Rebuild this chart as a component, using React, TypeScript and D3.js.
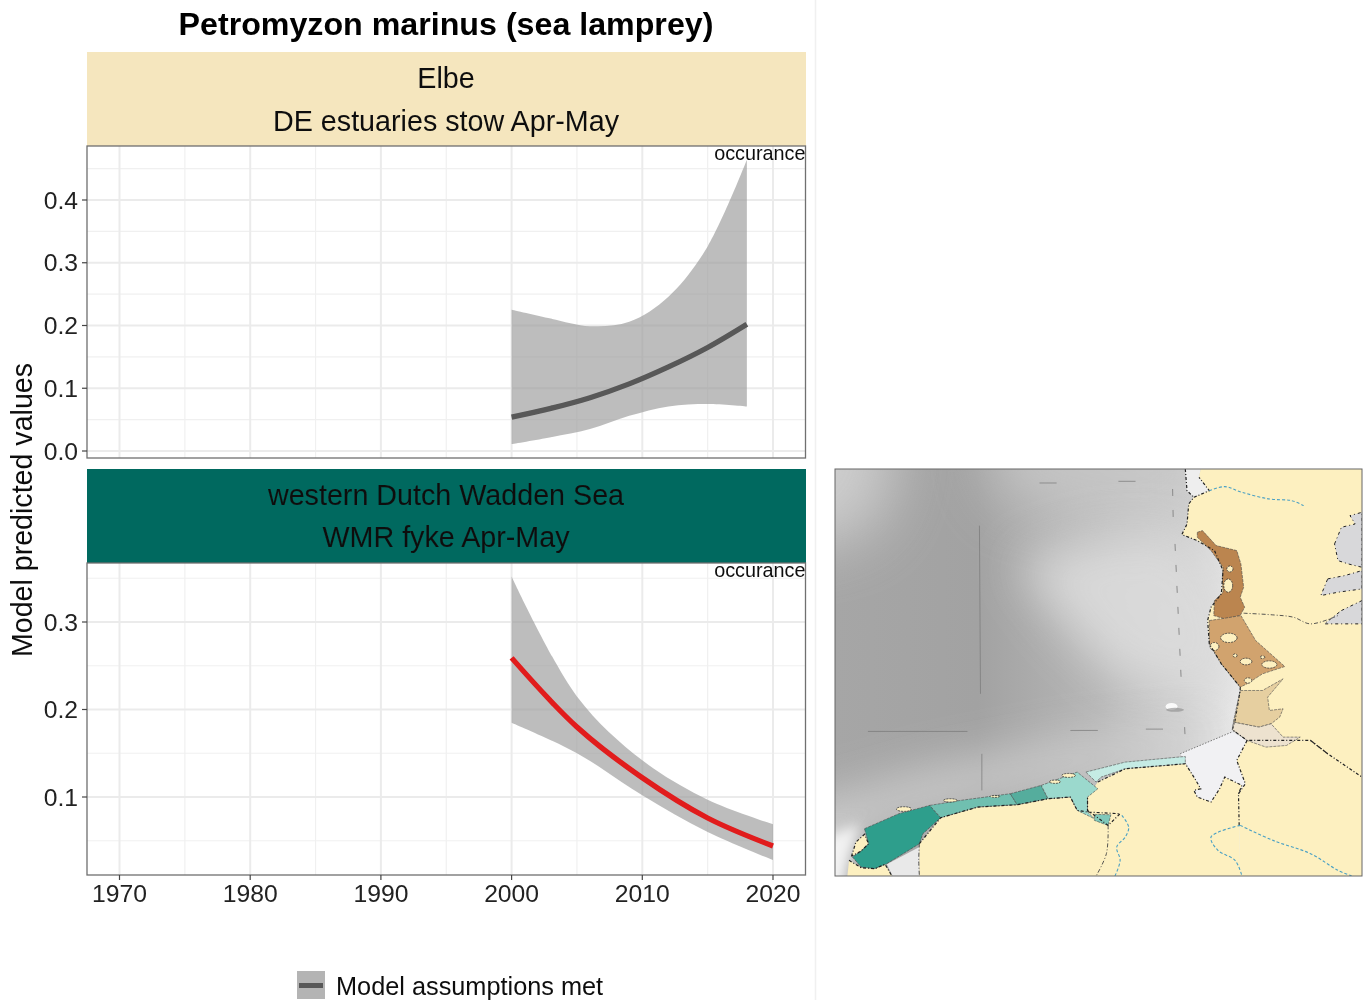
import React from "react";
import * as d3 from "d3";

type Pt = [number, number];

const years = [1970, 1980, 1990, 2000, 2010, 2020];
const minorYears = [1975, 1985, 1995, 2005, 2015];

const elbeYears = [2000, 2003, 2006, 2009, 2012, 2015, 2018];
const elbeMid = [0.054, 0.068, 0.085, 0.107, 0.134, 0.165, 0.202];
const elbeUpper = [0.225, 0.211, 0.199, 0.206, 0.246, 0.326, 0.464];
const elbeLower = [0.011, 0.022, 0.035, 0.056, 0.071, 0.075, 0.071];
const elbeTicks = [0, 0.1, 0.2, 0.3, 0.4];
const elbeMinor = [0.05, 0.15, 0.25, 0.35, 0.45];

const waddenYears = [2000, 2005, 2010, 2015, 2020];
const waddenMid = [0.259, 0.18, 0.122, 0.076, 0.044];
const waddenUpper = [0.352, 0.215, 0.142, 0.097, 0.069];
const waddenLower = [0.185, 0.15, 0.102, 0.06, 0.028];
const waddenTicks = [0.1, 0.2, 0.3];
const waddenMinor = [0.05, 0.15, 0.25, 0.35];

// map outlines, in the map's own grid
const seaStops: [number, string][] = [
  [0, "#a6a6a6"],
  [0.27, "#a2a2a2"],
  [0.5, "#b6b6b6"],
  [0.66, "#cfcfcf"],
  [0.78, "#ededed"],
];
const seaPatches: { pts: Pt[]; fill: string; blur: string; opacity: number }[] = [
  { pts: [[-300, -300], [200, -300], [170, 120], [100, 220], [-300, 300]], fill: "#d4d4d4", blur: "url(#mapBlurBig)", opacity: 0.85 },
  { pts: [[440, -300], [1100, -300], [1100, 190], [760, 190], [480, 110]], fill: "#c8c8c8", blur: "url(#mapBlurBig)", opacity: 0.85 },
  { pts: [[540, 300], [800, 220], [1030, 220], [1140, 400], [1180, 700], [1000, 690], [820, 640], [670, 480]], fill: "#dcdcdc", blur: "url(#mapBlurWide)", opacity: 0.9 },
  { pts: [[-300, 1110], [300, 930], [700, 850], [1170, 790], [1020, 880], [600, 975], [100, 1105], [50, 1190], [-300, 1500]], fill: "#d6d6d6", blur: "url(#mapBlurWide)", opacity: 0.9 },
  { pts: [[-60, 1150], [85, 1090], [55, 1190], [30, 1320], [-60, 1320]], fill: "#f2f2f2", blur: "url(#mapBlurSmall)", opacity: 1 },
];
const surveyLines: Pt[][] = [
  [[435, 195], [438, 700]],
  [[442, 880], [442, 990]],
  [[110, 813], [400, 813]],
  [[700, 810], [780, 810]],
  [[920, 806], [970, 806]],
  [[610, 67], [660, 67]],
  [[840, 62], [890, 62]],
];
const surveyDashes: Pt[][] = [
  [[998, 85], [1000, 190]],
  [[1005, 250], [1024, 680]],
  [[1033, 800], [1035, 840]],
  [[1042, 970], [1052, 1247]],
];

const landNorth: Pt[] = [[1080, 25], [1550, 25], [1550, 950], [1450, 880], [1400, 840], [1215, 840], [1172, 808], [1180, 780], [1195, 690], [1195, 680], [1140, 610], [1105, 550], [1100, 480], [1110, 440], [1140, 400], [1145, 330], [1120, 270], [1070, 240], [1025, 222], [1040, 190], [1045, 130], [1060, 110], [1105, 90], [1075, 50]];
const landSouth: Pt[] = [[1215, 840], [1400, 840], [1450, 880], [1550, 950], [1550, 1247], [1195, 1247], [1190, 1000], [1210, 970], [1185, 900]];
const landDutch: Pt[] = [[780, 965], [860, 925], [1035, 910], [1060, 950], [1080, 985], [1060, 990], [1070, 1010], [1110, 1025], [1135, 985], [1150, 950], [1200, 975], [1190, 1000], [1195, 1247], [260, 1247], [260, 1150], [322, 1072], [430, 1040], [545, 1033], [635, 1015], [700, 1010], [720, 1050], [750, 1055], [845, 1060], [810, 1095], [750, 1050], [750, 1010]];
const landBelgian: Pt[] = [[55, 1200], [90, 1222], [130, 1225], [160, 1212], [180, 1247], [50, 1247]];
const landIsland: Pt[] = [[62, 1188], [75, 1145], [100, 1122], [112, 1150], [90, 1172]];
const landPolys = [landNorth, landSouth, landDutch, landBelgian, landIsland];
const coastLines: Pt[][] = [
  landNorth.slice(3),
  [[1400, 840], [1450, 880], [1550, 950]],
  [[1215, 840], [1185, 900], [1210, 970], [1190, 1000], [1192, 1095]],
  landDutch.slice(0, 12),
  landDutch.slice(14),
  landBelgian.slice(0, 5),
  [...landIsland, landIsland[0]],
  [[1035, 25], [1040, 90], [1060, 110]],
];
const bightPoly: Pt[] = [[1020, 880], [1170, 815], [1215, 840], [1185, 900], [1210, 970], [1200, 975], [1150, 950], [1135, 985], [1110, 1025], [1070, 1010], [1060, 990], [1080, 985], [1060, 950], [1035, 905]];
const groundPoly: Pt[] = [[165, 1212], [260, 1160], [260, 1247], [182, 1247]];
const northNotch: Pt[] = [[1035, 25], [1080, 25], [1075, 50], [1105, 90], [1060, 110], [1040, 90]];

const areaPolys: { pts: Pt[]; fill: string }[] = [
  { pts: [[100, 1105], [200, 1060], [290, 1035], [322, 1072], [270, 1120], [260, 1150], [165, 1210], [130, 1225], [90, 1220], [65, 1190], [90, 1172], [112, 1150]], fill: "#2f9e8c" },
  { pts: [[290, 1035], [380, 1020], [525, 1000], [545, 1033], [430, 1040], [322, 1072]], fill: "#6fbfb0" },
  { pts: [[525, 1000], [615, 975], [635, 1015], [545, 1033]], fill: "#55ad9d" },
  { pts: [[615, 975], [720, 935], [780, 985], [750, 1010], [750, 1055], [770, 1075], [720, 1050], [700, 1010], [635, 1015]], fill: "#9bd9cd" },
  { pts: [[770, 1062], [818, 1063], [810, 1095], [770, 1080]], fill: "#7fc8ba" },
  { pts: [[745, 935], [860, 905], [1035, 888], [1035, 910], [860, 925], [790, 950], [775, 965]], fill: "#c5ebe4" },
  { pts: [[1070, 215], [1085, 210], [1125, 255], [1185, 270], [1197, 310], [1205, 380], [1195, 410], [1208, 440], [1195, 465], [1150, 475], [1118, 465], [1120, 420], [1145, 395], [1143, 350], [1145, 320], [1110, 270], [1070, 230]], fill: "#bb8550" },
  { pts: [[1105, 480], [1150, 473], [1197, 465], [1240, 540], [1325, 618], [1260, 640], [1215, 670], [1195, 680], [1140, 610], [1105, 550]], fill: "#d1a36e" },
  { pts: [[1195, 690], [1260, 690], [1320, 655], [1275, 710], [1280, 750], [1320, 745], [1310, 770], [1285, 790], [1250, 800], [1175, 785]], fill: "#e6cfa0" },
  { pts: [[1175, 785], [1250, 800], [1285, 790], [1320, 830], [1370, 830], [1330, 855], [1270, 860], [1215, 840], [1172, 808]], fill: "#ede2cf" },
];
const holeCentres: [number, number, number, number][] = [
  [1165, 325, 9, 9],
  [1160, 375, 13, 20],
  [1162, 532, 24, 14],
  [1120, 558, 13, 12],
  [1212, 603, 17, 10],
  [1280, 612, 22, 11],
  [1218, 660, 11, 8],
  [1180, 585, 6, 5],
  [1260, 590, 7, 4],
  [350, 1020, 20, 5],
  [215, 1046, 22, 7],
  [480, 1008, 14, 3],
  [655, 964, 16, 5],
  [695, 945, 20, 6],
];
const balticPolys: Pt[][] = [
  [[1470, 250], [1490, 200], [1530, 190], [1515, 165], [1550, 155], [1550, 320], [1510, 310], [1480, 300]],
  [[1450, 355], [1500, 345], [1550, 330], [1550, 385], [1480, 395], [1430, 405]],
  [[1490, 450], [1550, 420], [1550, 490], [1440, 490]],
];
const rivers: Pt[][] = [
  [[1105, 90], [1150, 78], [1200, 95], [1280, 115], [1345, 120], [1380, 135]],
  [[1195, 1095], [1110, 1130], [1130, 1170], [1180, 1200], [1200, 1247]],
  [[1195, 1095], [1290, 1140], [1400, 1180], [1480, 1230], [1520, 1247]],
  [[850, 1065], [870, 1100], [860, 1130], [835, 1160], [845, 1200], [830, 1247]],
];
const borders: Pt[][] = [
  [[1205, 458], [1290, 463], [1350, 470], [1400, 490], [1480, 465]],
  [[810, 1095], [805, 1180], [775, 1247]],
  [[260, 1150], [258, 1200], [260, 1247]],
];
const cutLines: Pt[][] = [
  [[1020, 880], [1170, 815]],
  [[1172, 808], [1195, 690]],
];

const panelLeft = 87;
const panelRight = 805.5;
const x = d3.scaleLinear().domain([1970, 2020]).range([119.5, 773]);
const yElbe = d3.scaleLinear().domain([0, 0.4]).range([451, 200]);
const yWadden = d3.scaleLinear().domain([0.1, 0.3]).range([797, 622]);
const mapX = d3.scaleLinear().domain([14, 1550]).range([835, 1362]);
const mapY = d3.scaleLinear().domain([25, 1247]).range([469, 876]);

const mapPath = d3.line<Pt>().x((d) => mapX(d[0])).y((d) => mapY(d[1]));
const closed = (pts: Pt[]) => mapPath(pts) + "Z";
const smooth = (pts: Pt[]) =>
  d3.line<Pt>().x((d) => mapX(d[0])).y((d) => mapY(d[1])).curve(d3.curveCatmullRom)(pts) as string;

const font = "'Liberation Sans', Arial, sans-serif";

interface PanelProps {
  top: number;
  bottom: number;
  y: d3.ScaleLinear<number, number>;
  ticks: number[];
  minor: number[];
  xs: number[];
  mid: number[];
  upper: number[];
  lower: number[];
  color: string;
  showX?: boolean;
}

const Panel: React.FC<PanelProps> = ({ top, bottom, y, ticks, minor, xs, mid, upper, lower, color, showX }) => {
  const band = d3
    .area<number>()
    .x((d) => x(d))
    .y0((_, i) => y(lower[i]))
    .y1((_, i) => y(upper[i]))
    .curve(d3.curveCatmullRom)(xs) as string;
  const line = d3
    .line<number>()
    .x((d) => x(d))
    .y((_, i) => y(mid[i]))
    .curve(d3.curveCatmullRom)(xs) as string;
  const inY = (v: number) => y(v) > top && y(v) < bottom;
  return (
    <g>
      {minorYears.map((d) => (
        <line key={d} x1={x(d)} x2={x(d)} y1={top} y2={bottom} stroke="#f0f0f0" strokeWidth={1.2} />
      ))}
      {minor.filter(inY).map((d) => (
        <line key={d} x1={panelLeft} x2={panelRight} y1={y(d)} y2={y(d)} stroke="#f0f0f0" strokeWidth={1.2} />
      ))}
      {years.map((d) => (
        <line key={d} x1={x(d)} x2={x(d)} y1={top} y2={bottom} stroke="#ebebeb" strokeWidth={2} />
      ))}
      {ticks.map((d) => (
        <line key={d} x1={panelLeft} x2={panelRight} y1={y(d)} y2={y(d)} stroke="#ebebeb" strokeWidth={2} />
      ))}
      <path d={band} fill="#999999" fillOpacity={0.65} />
      <path d={line} fill="none" stroke={color} strokeWidth={5.3} />
      <rect x={panelLeft} y={top} width={panelRight - panelLeft} height={bottom - top} fill="none" stroke="#6f6f6f" strokeWidth={1.3} />
      {ticks.map((d) => (
        <g key={d}>
          <line x1={panelLeft - 5} x2={panelLeft} y1={y(d)} y2={y(d)} stroke="#444" strokeWidth={1.2} />
          <text x={panelLeft - 9} y={y(d) + 8.5} textAnchor="end" fontSize={24.7} fill="#222">
            {d3.format(".1f")(d)}
          </text>
        </g>
      ))}
      {showX &&
        years.map((d) => (
          <g key={d}>
            <line x1={x(d)} x2={x(d)} y1={bottom} y2={bottom + 5} stroke="#444" strokeWidth={1.2} />
            <text x={x(d)} y={bottom + 27} textAnchor="middle" fontSize={24.7} fill="#222">
              {d}
            </text>
          </g>
        ))}
      <text x={panelRight} y={top + 14} textAnchor="end" fontSize={19.8} fill="#111">
        occurance
      </text>
    </g>
  );
};

const App: React.FC = () => (
  <svg
    width={1368}
    height={1000}
    style={{ position: "absolute", left: 0, top: 0, background: "#fff" }}
    fontFamily={font}
  >
    <defs>
      <filter id="soft" x="-5%" y="-5%" width="110%" height="110%">
        <feGaussianBlur stdDeviation="0.45" />
      </filter>
      <filter id="mapBlurBig" x="-60%" y="-60%" width="220%" height="220%">
        <feGaussianBlur stdDeviation="30" />
      </filter>
      <filter id="mapBlurWide" x="-40%" y="-40%" width="180%" height="180%">
        <feGaussianBlur stdDeviation="24" />
      </filter>
      <filter id="mapBlurSmall" x="-40%" y="-40%" width="180%" height="180%">
        <feGaussianBlur stdDeviation="6" />
      </filter>
      <linearGradient id="seaGrad" x1="0" x2="1" y1="0" y2="0">
        {seaStops.map(([o, c]) => (
          <stop key={o} offset={o} stopColor={c} />
        ))}
      </linearGradient>
      <clipPath id="mapClip">
        <rect x={835} y={469} width={527} height={407} />
      </clipPath>
    </defs>

    <line x1={815.5} x2={815.5} y1={0} y2={1000} stroke="#f0f0f0" strokeWidth={1.5} />

    <g filter="url(#soft)">
      <text x={446} y={35} textAnchor="middle" fontSize={32.2} fontWeight="bold" fill="#000">
        Petromyzon marinus (sea lamprey)
      </text>

      <rect x={87} y={52} width={719} height={94} fill="#f5e6be" />
      <text x={446} y={88} textAnchor="middle" fontSize={28.7} fill="#111">Elbe</text>
      <text x={446} y={131} textAnchor="middle" fontSize={28.7} fill="#111">DE estuaries stow Apr-May</text>

      <rect x={87} y={469} width={719} height={94} fill="#00695f" />
      <text x={446} y={505} textAnchor="middle" fontSize={28.7} fill="#111">western Dutch Wadden Sea</text>
      <text x={446} y={547} textAnchor="middle" fontSize={28.7} fill="#111">WMR fyke Apr-May</text>

      <Panel top={146} bottom={458} y={yElbe} ticks={elbeTicks} minor={elbeMinor} xs={elbeYears} mid={elbeMid} upper={elbeUpper} lower={elbeLower} color="#585858" />
      <Panel top={563} bottom={875} y={yWadden} ticks={waddenTicks} minor={waddenMinor} xs={waddenYears} mid={waddenMid} upper={waddenUpper} lower={waddenLower} color="#e11a1c" showX />

      <text transform="translate(32,510) rotate(-90)" textAnchor="middle" fontSize={28.6} fill="#111">
        Model predicted values
      </text>

      <rect x={297} y={971} width={28} height={28} fill="#b4b4b4" />
      <line x1={299} x2={323} y1={985.5} y2={985.5} stroke="#585858" strokeWidth={5} />
      <text x={336} y={995} fontSize={25.3} fill="#111">Model assumptions met</text>

      <g clipPath="url(#mapClip)">
        <rect x={835} y={469} width={527} height={407} fill="url(#seaGrad)" />
        {seaPatches.map((p, i) => (
          <path key={i} d={closed(p.pts)} fill={p.fill} filter={p.blur} opacity={p.opacity} />
        ))}
        {surveyLines.map((p, i) => (
          <path key={i} d={mapPath(p) as string} stroke="#777" strokeOpacity={0.7} strokeWidth={1} fill="none" />
        ))}
        {surveyDashes.map((p, i) => (
          <path key={i} d={mapPath(p) as string} stroke="#8a8a8a" strokeWidth={1} strokeDasharray="7 14" fill="none" />
        ))}
        <ellipse cx={mapX(995)} cy={mapY(738)} rx={6} ry={3.5} fill="#fafafa" />
        <ellipse cx={mapX(1005)} cy={mapY(748)} rx={9} ry={2} fill="#8a8a8a" fillOpacity={0.6} />

        <path d={closed(bightPoly)} fill="#f1f1f3" />
        <path d={closed(northNotch)} fill="#eeeeee" />
        <path d={closed(groundPoly)} fill="#e9e9e9" />
        {landPolys.map((p, i) => (
          <path key={i} d={closed(p)} fill="#fdf0c0" />
        ))}
        {balticPolys.map((p, i) => (
          <path key={i} d={closed(p)} fill="#d8d8da" stroke="#222" strokeWidth={1} strokeDasharray="3 3 1 3" />
        ))}
        {areaPolys.map((a, i) => (
          <path key={i} d={closed(a.pts)} fill={a.fill} stroke="#4a4a4a" strokeWidth={0.6} strokeDasharray="3 1" />
        ))}
        {holeCentres.map(([cx, cy, rx, ry], i) => (
          <ellipse key={i} cx={mapX(cx)} cy={mapY(cy)} rx={rx * 0.343} ry={ry * 0.333} fill="#fdf0c0" stroke="#333" strokeWidth={0.8} strokeDasharray="2 1" />
        ))}
        {coastLines.map((p, i) => (
          <path key={i} d={mapPath(p) as string} fill="none" stroke="#222" strokeWidth={1.2} strokeDasharray="3 2 1 2" />
        ))}
        {rivers.map((p, i) => (
          <path key={i} d={smooth(p)} fill="none" stroke="#4aa0c4" strokeWidth={1.1} strokeDasharray="3 2" />
        ))}
        {borders.map((p, i) => (
          <path key={i} d={smooth(p)} fill="none" stroke="#444" strokeWidth={0.9} strokeDasharray="4 2 1 2" />
        ))}
        {cutLines.map((p, i) => (
          <path key={i} d={mapPath(p) as string} fill="none" stroke="#777" strokeWidth={1} strokeDasharray="1.5 1.5" />
        ))}
      </g>
      <rect x={835} y={469} width={527} height={407} fill="none" stroke="#666" strokeWidth={1} />
    </g>
  </svg>
);

export default App;
